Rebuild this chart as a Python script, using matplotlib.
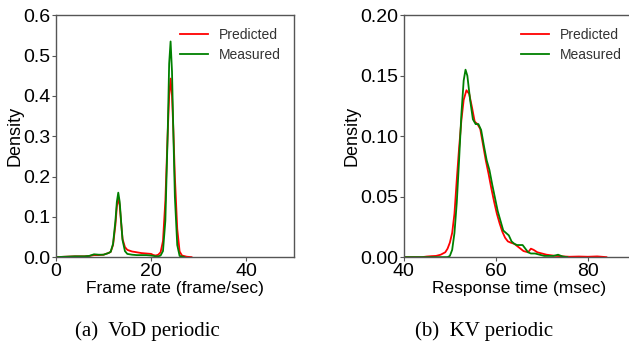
import matplotlib
matplotlib.use('Agg')
import matplotlib.pyplot as plt

# ------------------------------------------------------------------------
# Data (densities)

vod_x_pred = [0, 2, 4, 6, 7, 8, 9, 10, 11, 11.5, 12, 12.5, 12.8, 13.1, 13.4,
              13.7, 14, 14.5, 15, 16, 17, 18, 19, 20, 20.5, 21, 21.5, 22,
              22.5, 23, 23.5, 23.8, 24.1, 24.4, 24.7, 25, 25.5, 26, 26.5,
              27.5, 28.5]
vod_y_pred = [0, 0.001, 0.002, 0.002, 0.003, 0.005, 0.005, 0.006, 0.01,
              0.013, 0.03, 0.08, 0.125, 0.148, 0.128, 0.085, 0.045, 0.025,
              0.018, 0.014, 0.012, 0.01, 0.009, 0.008, 0.005, 0.004, 0.006,
              0.012, 0.04, 0.14, 0.31, 0.40, 0.443, 0.40, 0.31, 0.20, 0.07,
              0.014, 0.004, 0.001, 0]

vod_x_meas = [0, 2, 4, 6, 7, 8, 9, 10, 11, 11.5, 12, 12.5, 12.8, 13.1, 13.4,
              13.7, 14, 14.5, 15, 16, 17, 18, 19, 20, 21, 21.5, 22, 22.5,
              23, 23.5, 23.8, 24.1, 24.4, 24.7, 25, 25.5, 26, 27]
vod_y_meas = [0, 0.001, 0.002, 0.002, 0.003, 0.007, 0.006, 0.006, 0.01,
              0.013, 0.033, 0.09, 0.137, 0.16, 0.137, 0.088, 0.042, 0.015,
              0.008, 0.006, 0.005, 0.005, 0.005, 0.004, 0.002, 0.002, 0.004,
              0.015, 0.09, 0.31, 0.48, 0.535, 0.46, 0.30, 0.15, 0.03, 0.003,
              0]

kv_x_pred = [40, 44, 45, 46, 47, 48, 49, 49.5, 50, 50.5, 51, 51.5, 52, 52.5,
             53, 53.6, 54.2, 54.8, 55.4, 56, 56.6, 57.2, 57.8, 58.4, 59, 59.6,
             60.2, 60.8, 61.4, 62, 62.6, 63.2, 64, 65, 66, 67, 67.6, 68.2,
             69, 70, 71, 72, 73, 74, 75, 76, 78, 80, 82, 83, 84]
kv_y_pred = [0, 0, 0.0005, 0.0008, 0.001, 0.002, 0.004, 0.007, 0.012, 0.02,
             0.036, 0.064, 0.09, 0.113, 0.13, 0.138, 0.135, 0.124, 0.112,
             0.11, 0.106, 0.093, 0.08, 0.069, 0.057, 0.046, 0.036, 0.028,
             0.021, 0.016, 0.013, 0.012, 0.011, 0.008, 0.005, 0.004, 0.007,
             0.006, 0.004, 0.003, 0.002, 0.0015, 0.001, 0.0008, 0.0005,
             0.0003, 0.0005, 0.0003, 0.0006, 0.0003, 0]

kv_x_meas = [40, 49, 49.5, 50, 50.5, 51, 51.5, 52, 52.5, 53, 53.4, 53.8,
             54.4, 55, 55.6, 56.2, 56.8, 57.4, 58, 58.6, 59.2, 59.8, 60.4, 61,
             61.6, 62.2, 62.8, 63.4, 64, 64.6, 65.2, 65.8, 66.4, 67, 67.6,
             68.5, 69.5, 70.5, 71.5, 72.5, 73.5, 74.5, 75.5]
kv_y_meas = [0, 0, 0, 0.001, 0.006, 0.02, 0.045, 0.08, 0.118, 0.146, 0.155,
             0.15, 0.13, 0.114, 0.11, 0.11, 0.105, 0.092, 0.08, 0.072, 0.06,
             0.049, 0.038, 0.03, 0.022, 0.02, 0.018, 0.013, 0.011, 0.01, 0.01,
             0.01, 0.007, 0.004, 0.003, 0.003, 0.002, 0.001, 0.001, 0.001,
             0.002, 0.0005, 0]

series_names = ['Predicted', 'Measured']
captions = ['(a)  VoD periodic', '(b)  KV periodic']

# ------------------------------------------------------------------------
# Plotting

plt.rcParams['font.family'] = ['Liberation Sans', 'DejaVu Sans']
spine_col = '#555555'

fig = plt.figure(figsize=(6.29, 3.47), dpi=100)
ax1 = fig.add_axes([0.089, 0.259, 0.378, 0.697])
ax2 = fig.add_axes([0.642, 0.259, 0.366, 0.697])

ax1.plot(vod_x_pred, vod_y_pred, color='red', lw=1.3, label=series_names[0])
ax1.plot(vod_x_meas, vod_y_meas, color='green', lw=1.3, label=series_names[1])
ax1.set_xlim(0, 50)
ax1.set_ylim(0, 0.6)
ax1.set_xticks([0, 20, 40])
ax1.set_yticks([0.0, 0.1, 0.2, 0.3, 0.4, 0.5, 0.6])
ax1.set_xlabel('Frame rate (frame/sec)', fontsize=12.5, labelpad=1)

ax2.plot(kv_x_pred, kv_y_pred, color='red', lw=1.3, label=series_names[0])
ax2.plot(kv_x_meas, kv_y_meas, color='green', lw=1.3, label=series_names[1])
ax2.set_xlim(40, 90)
ax2.set_ylim(0, 0.2)
ax2.set_xticks([40, 60, 80])
ax2.set_yticks([0.0, 0.05, 0.10, 0.15, 0.20])
ax2.set_yticklabels(['0.00', '0.05', '0.10', '0.15', '0.20'])
ax2.set_xlabel('Response time (msec)', fontsize=12.5, labelpad=1)

for ax in (ax1, ax2):
    ax.set_ylabel('Density', fontsize=13, labelpad=0)
    for s in ax.spines.values():
        s.set_color(spine_col)
        s.set_linewidth(1.0)
    ax.tick_params(labelsize=14, length=3, width=0.8, color=spine_col,
                   pad=1.0)
    leg = ax.legend(frameon=False, fontsize=10, loc='upper right',
                    handlelength=2.0, handletextpad=0.8, labelspacing=0.45)
    for t in leg.get_texts():
        t.set_color('#333333')

fig.text(0.234, 0.047, captions[0], family='Liberation Serif', fontsize=15,
         ha='center', va='center')
fig.text(0.77, 0.047, captions[1], family='Liberation Serif', fontsize=15,
         ha='center', va='center')

fig.savefig('out.png', dpi=100)
